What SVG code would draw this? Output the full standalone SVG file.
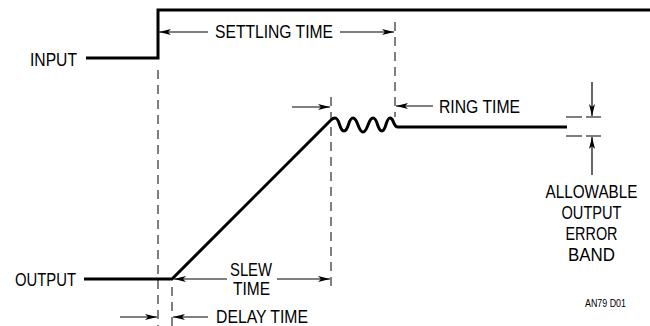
<svg xmlns="http://www.w3.org/2000/svg" width="650" height="326" viewBox="0 0 650 326">
<defs>
<marker id="ah" viewBox="0 0 12 6" refX="12" refY="3" markerWidth="12" markerHeight="6" markerUnits="userSpaceOnUse" orient="auto">
<path d="M0,0 L12,3 L0,6 L3,3 Z" fill="#000"/>
</marker>
<style>
.sig{fill:none;stroke:#000;stroke-width:3}
.dash{fill:none;stroke:#000;stroke-width:1;stroke-dasharray:9 6}
.arr{fill:none;stroke:#000;stroke-width:1.2;marker-end:url(#ah)}
.thin{fill:none;stroke:#000;stroke-width:1.2}
text{font-family:"Liberation Sans Narrow","Liberation Sans",Arial,sans-serif;font-size:19px;fill:#000}
.c{text-anchor:middle}
.sm{font-size:11px}
</style>
</defs>
<rect width="650" height="326" fill="#fff"/>
<g id="input">
<path class="sig" d="M86,58 H158 V10 H650"/>
<text x="30" y="66" textLength="47" lengthAdjust="spacingAndGlyphs">INPUT</text>
</g>
<g id="output">
<path class="sig" d="M84,279 H172 L331,120 C333,118 334,118 335,118 C340,118 339,131 344,131 C349,131 348,118 353,118 C358,118 358,132 363,132 C368,132 368,118 373,118 C378,118 377,131 382,131 C386,131 386,118 390,118 C394,118 393,127 398,127 H567"/>
<text x="15" y="286" textLength="61" lengthAdjust="spacingAndGlyphs">OUTPUT</text>
</g>
<g id="connectors">
<path class="dash" d="M158,70 V326"/>
<path class="dash" d="M172,287 V326"/>
<path class="dash" d="M331,97 V292"/>
<path class="dash" d="M395,22 V117"/>
<path class="arr" d="M208,32 H159"/>
<path class="arr" d="M340,32 H394"/>
<path class="arr" d="M292,107 H330"/>
<path class="arr" d="M433,106 H396"/>
<path class="arr" d="M227,279 H174"/>
<path class="arr" d="M277,279 H330"/>
<path class="arr" d="M120,317 H157"/>
<path class="arr" d="M208,317 H173"/>
<path class="arr" d="M592,82 V116"/>
<path class="arr" d="M592,175 V137"/>
<path class="thin" d="M566,117 H582 M586,117 H601 M566,136 H582 M586,136 H601" stroke="#555"/>
</g>
<g id="labels">
<text x="215" y="38" textLength="118" lengthAdjust="spacingAndGlyphs">SETTLING TIME</text>
<text x="439" y="113" textLength="81" lengthAdjust="spacingAndGlyphs">RING TIME</text>
<text x="251" y="276" class="c" textLength="42" lengthAdjust="spacingAndGlyphs">SLEW</text>
<text x="251.5" y="295" class="c" textLength="37" lengthAdjust="spacingAndGlyphs">TIME</text>
<text x="216" y="323" textLength="92" lengthAdjust="spacingAndGlyphs">DELAY TIME</text>
<text x="591.5" y="198" class="c" textLength="92" lengthAdjust="spacingAndGlyphs">ALLOWABLE</text>
<text x="591.5" y="219" class="c" textLength="60" lengthAdjust="spacingAndGlyphs">OUTPUT</text>
<text x="591.5" y="240" class="c" textLength="52" lengthAdjust="spacingAndGlyphs">ERROR</text>
<text x="591.5" y="261" class="c" textLength="47" lengthAdjust="spacingAndGlyphs">BAND</text>
<text x="585" y="307" class="sm" textLength="41" lengthAdjust="spacingAndGlyphs">AN79 D01</text>
</g>
</svg>
